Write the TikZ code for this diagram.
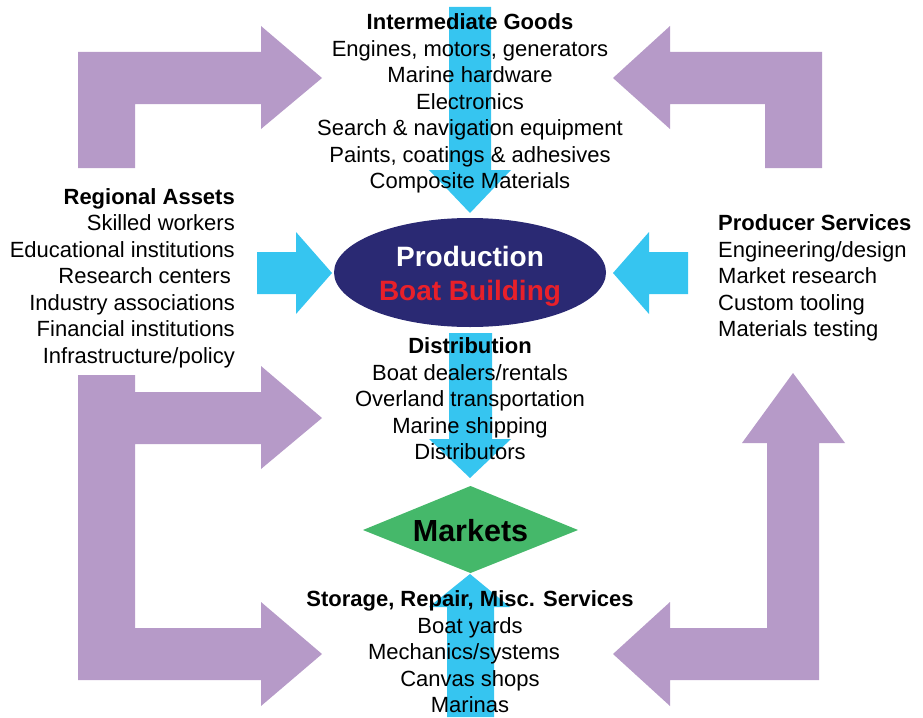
\documentclass[tikz,border=0pt]{standalone}
\usepackage{fontspec}
\setmainfont{Liberation Sans}
\usetikzlibrary{shapes.geometric}
\definecolor{lilac}{RGB}{182,154,200}
\definecolor{sky}{RGB}{54,197,240}
\definecolor{navy}{RGB}{42,41,115}
\definecolor{leaf}{RGB}{69,184,106}
\definecolor{signal}{RGB}{232,32,42}
\tikzset{
  bigarrow/.style={fill=lilac},
  flowarrow/.style={fill=sky},
  listtext/.style={inner sep=0pt, font=\fontsize{22}{26.5}\selectfont},
}
\begin{document}
\begin{tikzpicture}[x=1pt,y=-1pt]
\useasboundingbox (0,0) rectangle (923,717);

% purple loop arrows
\fill[bigarrow] (78,168) -- (78,52) -- (261,52) -- (261,26) -- (322,78) -- (261,129) -- (261,104) -- (135,104) -- (135,168) -- cycle;
\fill[bigarrow] (822,168) -- (822,52) -- (670,52) -- (670,26) -- (613,78) -- (670,129) -- (670,104) -- (765,104) -- (765,168) -- cycle;
\fill[bigarrow] (78,375) -- (135,375) -- (135,392) -- (261,392) -- (261,366) -- (322,418) -- (261,469) -- (261,444) -- (135,444) -- (135,628) -- (261,628) -- (261,602) -- (322,654) -- (261,706) -- (261,680) -- (78,680) -- cycle;
\fill[bigarrow] (819,680) -- (670,680) -- (670,706) -- (613,654) -- (670,602) -- (670,628) -- (767,628) -- (767,443) -- (742,443) -- (793,373) -- (845,443) -- (819,443) -- cycle;

% blue flow arrows
\fill[flowarrow] (449,7) -- (491,7) -- (491,170) -- (511,170) -- (470,213) -- (429,170) -- (449,170) -- cycle;
\fill[flowarrow] (257,252) -- (296,252) -- (296,232) -- (332,273) -- (296,314) -- (296,294) -- (257,294) -- cycle;
\fill[flowarrow] (688,252) -- (649,252) -- (649,232) -- (613,273) -- (649,314) -- (649,294) -- (688,294) -- cycle;
\fill[flowarrow] (449,333) -- (492,333) -- (492,439) -- (511,439) -- (470,478) -- (429,439) -- (449,439) -- cycle;
\fill[flowarrow] (447,717) -- (447,607) -- (429,607) -- (470,574) -- (510,607) -- (494,607) -- (494,717) -- cycle;

% production ellipse
\node[ellipse, fill=navy, minimum width=272pt, minimum height=109pt, inner sep=0pt] (prod) at (470,272.5) {};
\node[inner sep=0pt, font=\bfseries\fontsize{28}{34}\selectfont, align=center] (prodtext) at (470,276.5)
  {\textcolor{white}{Production}\\\textcolor{signal}{Boat Building}};

% markets diamond
\fill[leaf] (363,530) -- (470.5,486) -- (578,530) -- (470.5,573) -- cycle;
\node[inner sep=0pt, font=\bfseries\fontsize{30.5}{36}\selectfont] (markets) at (470.5,531) {Markets};

% text blocks
\node[listtext, align=center] (inter) at (470,103.5) {\textbf{Intermediate Goods}\\Engines, motors, generators\\Marine hardware\\Electronics\\Search \& navigation equipment\\Paints, coatings \& adhesives\\Composite Materials};
\node[listtext, align=right, anchor=east] (assets) at (235,278) {\textbf{Regional Assets}\\Skilled workers\\Educational institutions\\Research centers\kern4pt\\Industry associations\\Financial institutions\\Infrastructure/policy};
\node[listtext, align=left, anchor=west] (services) at (718,278) {\textbf{Producer Services}\\Engineering/design\\Market research\\Custom tooling\\Materials testing};
\node[listtext, align=center] (distrib) at (470,399) {\textbf{Distribution}\\Boat dealers/rentals\\Overland transportation\\Marine shipping\\Distributors};
\node[listtext, align=center] (storage) at (470,652) {\textbf{Storage, Repair, Misc. Services}\\Boat yards\\Mechanics/systems\kern12pt\\Canvas shops\\Marinas};
\end{tikzpicture}
\end{document}
